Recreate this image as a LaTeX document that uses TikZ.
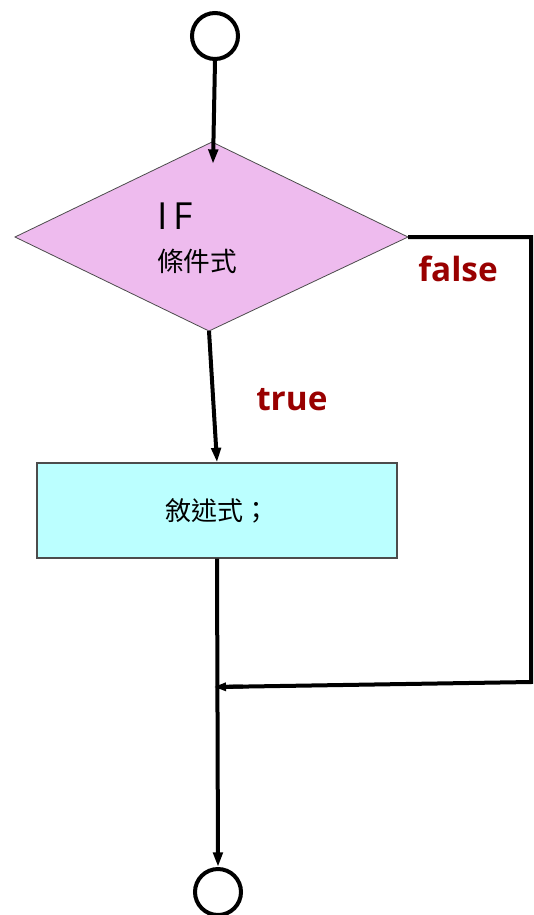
\documentclass[tikz,border=0pt]{standalone}
\usepackage{fontspec}
\setmainfont{Open Sans}
\newfontfamily\cjk{Noto Sans CJK TC}
\usetikzlibrary{arrows.meta,shapes.geometric}
\definecolor{pinkfill}{HTML}{EEBBEE}
\definecolor{cyanfill}{HTML}{BBFFFF}
\definecolor{labred}{HTML}{990000}
\begin{document}
\begin{tikzpicture}[x=0.75pt,y=-0.75pt,
  term/.style={circle,draw=black,line width=3pt,minimum size=46*0.75pt,inner sep=0pt},
  conn/.style={line width=3pt,-{Triangle[length=11pt,width=7pt]}},
  plain/.style={line width=3pt},
  lab/.style={text=labred,font=\fontsize{25}{25}\selectfont\bfseries,inner sep=0pt,anchor=base west}]
\useasboundingbox[fill=white] (0,0) rectangle (534,915);
\node[term] (start) at (215,36) {};
\node[term] (stop) at (218,892) {};
\coordinate (dtop) at (212,142);
\coordinate (dright) at (408,237);
\coordinate (dbot) at (209,331);
\coordinate (dleft) at (15,237);
\filldraw[fill=pinkfill,draw=black!70,line width=0.6pt] (dtop) -- (dright) -- (dbot) -- (dleft) -- cycle;
\node[anchor=base west,inner sep=0pt,font=\fontsize{28}{28}\selectfont] (iflab) at (157,229) {I\,F};
\node[anchor=base west,inner sep=0pt,font=\cjk\fontsize{20}{20}\selectfont] (cond) at (157,271) {條件式};
\node[draw=black!70,fill=cyanfill,line width=0.8pt,minimum width=360*0.75pt,minimum height=95*0.75pt,inner sep=0pt,
  font=\cjk\fontsize{19.5}{20}\selectfont] (stmt) at (217,510.5) {敘述式；};
\coordinate (fr) at (531,237);
\coordinate (fb) at (531,682);
\coordinate (junc) at (214,687);
\draw[conn] (start.south) -- (213,164);
\draw[conn] (dbot) -- (stmt.north);
\draw[plain] (dright) -- (fr) -- (fb) -- ([xshift=2pt]junc);
\draw[line width=3pt,-{Triangle[length=9pt,width=6pt]}] (243,686.5) -- (junc);
\draw[conn] (stmt.south) -- (stop.north);
\node[lab] (fl) at (418,281) {false};
\node[lab] (tl) at (256,410) {true};
\end{tikzpicture}
\end{document}
